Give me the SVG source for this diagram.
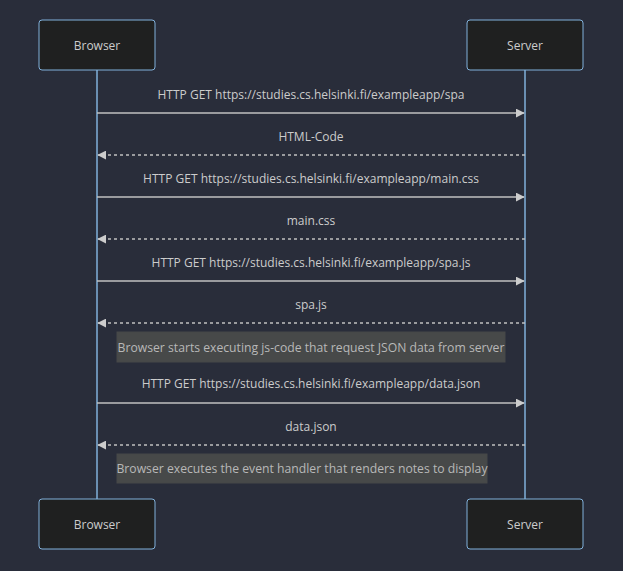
<svg xmlns="http://www.w3.org/2000/svg" width="623" height="571" viewBox="0 0 623 571">
<style>
.actor{fill:#1f2020;stroke:#81b1db;stroke-width:1}
.atext{fill:#ccc;font-family:"Open Sans","DejaVu Sans",sans-serif;font-size:12px;text-anchor:middle;dominant-baseline:central}
.life{stroke:#81b1db;stroke-width:1.5}
.msg{stroke:#c0c0c0;stroke-width:1.5;fill:none}
.dash{stroke-dasharray:3,3}
.mtext{fill:#ccc;font-family:"Open Sans","DejaVu Sans",sans-serif;font-size:12px;text-anchor:middle;dominant-baseline:central}
.note{fill:#474949;stroke:#474949}
.ntext{fill:#b8b8b8;font-family:"Open Sans","DejaVu Sans",sans-serif;font-size:12.2px;text-anchor:middle;dominant-baseline:central}
</style>
<defs>
<marker id="arrowL" viewBox="0 0 12 12" refX="11" refY="6" markerWidth="9" markerHeight="9" markerUnits="userSpaceOnUse" orient="auto">
<path d="M0,0 L12,6 L0,12 z" fill="#ccc"/>
</marker>
</defs>
<rect width="623" height="571" fill="#292d3a"/>
<g id="lifelines">
<line class="life" x1="97" y1="70" x2="97" y2="499"/>
<line class="life" x1="525" y1="70" x2="525" y2="499"/>
</g>
<g id="browser-top"><rect class="actor" x="39" y="20" width="116" height="50" rx="3"/><text class="atext" x="97" y="45">Browser</text></g>
<g id="server-top"><rect class="actor" x="467" y="20" width="116" height="50" rx="3"/><text class="atext" x="525" y="45">Server</text></g>
<g id="browser-bottom"><rect class="actor" x="39" y="499" width="116" height="50" rx="3"/><text class="atext" x="97" y="524">Browser</text></g>
<g id="server-bottom"><rect class="actor" x="467" y="499" width="116" height="50" rx="3"/><text class="atext" x="525" y="524">Server</text></g>
<g id="note1"><rect class="note" x="117" y="332" width="388" height="30"/><text class="ntext" x="311" y="347">Browser starts executing js-code that request JSON data from server</text></g>
<g id="note2"><rect class="note" x="117" y="454" width="370" height="29"/><text class="ntext" x="302" y="468">Browser executes the event handler that renders notes to display</text></g>
<g id="connectors">
<line class="msg" x1="97" y1="113" x2="524" y2="113" marker-end="url(#arrowL)"/>
<text class="mtext" x="311" y="94">HTTP GET https://studies.cs.helsinki.fi/exampleapp/spa</text>
<line class="msg dash" x1="525" y1="155" x2="98" y2="155" marker-end="url(#arrowL)"/>
<text class="mtext" x="311" y="136">HTML-Code</text>
<line class="msg" x1="97" y1="197" x2="524" y2="197" marker-end="url(#arrowL)"/>
<text class="mtext" x="311" y="178">HTTP GET https://studies.cs.helsinki.fi/exampleapp/main.css</text>
<line class="msg dash" x1="525" y1="239" x2="98" y2="239" marker-end="url(#arrowL)"/>
<text class="mtext" x="311" y="220">main.css</text>
<line class="msg" x1="97" y1="281" x2="524" y2="281" marker-end="url(#arrowL)"/>
<text class="mtext" x="311" y="262">HTTP GET https://studies.cs.helsinki.fi/exampleapp/spa.js</text>
<line class="msg dash" x1="525" y1="323" x2="98" y2="323" marker-end="url(#arrowL)"/>
<text class="mtext" x="311" y="304">spa.js</text>
<line class="msg" x1="97" y1="403" x2="524" y2="403" marker-end="url(#arrowL)"/>
<text class="mtext" x="311" y="383">HTTP GET https://studies.cs.helsinki.fi/exampleapp/data.json</text>
<line class="msg dash" x1="525" y1="445" x2="98" y2="445" marker-end="url(#arrowL)"/>
<text class="mtext" x="311" y="426">data.json</text>
</g>
</svg>
